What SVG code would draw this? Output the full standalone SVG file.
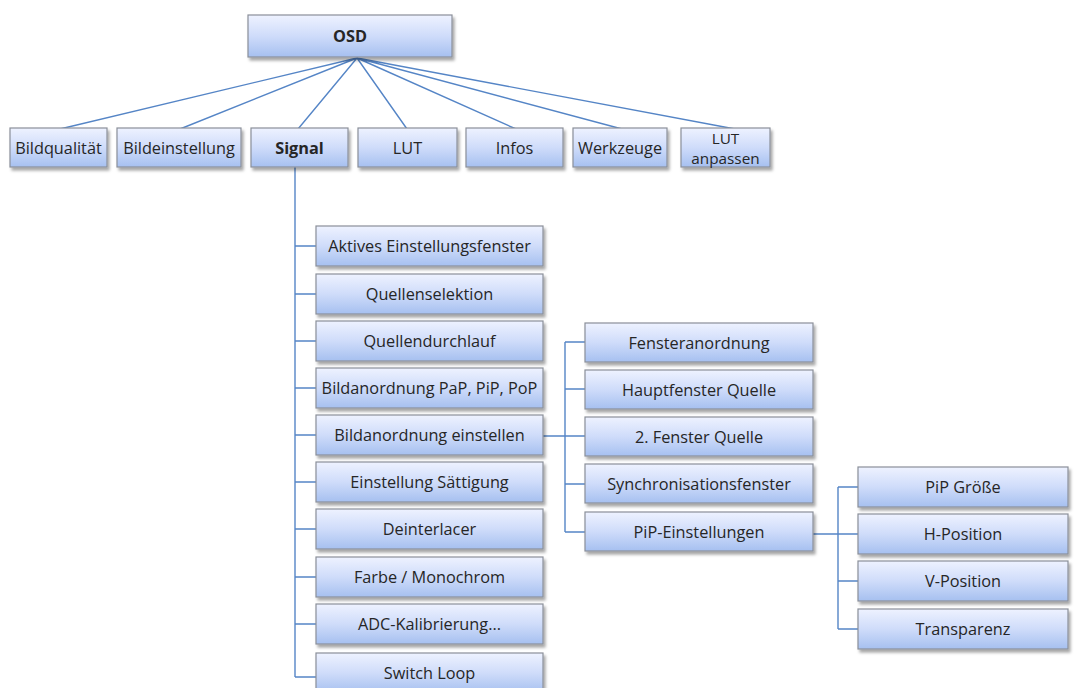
<svg xmlns="http://www.w3.org/2000/svg" width="1075" height="688" viewBox="0 0 1075 688">
  <defs>
    <linearGradient id="boxFill" x1="0" y1="0" x2="0" y2="1">
      <stop offset="0" stop-color="#eef2ff"/>
      <stop offset="0.5" stop-color="#cfdcfa"/>
      <stop offset="1" stop-color="#a6c0f0"/>
    </linearGradient>
    <filter id="shadow" x="-10%" y="-20%" width="125%" height="160%">
      <feDropShadow dx="2" dy="3" stdDeviation="1.6" flood-color="#000" flood-opacity="0.35"/>
    </filter>
  </defs>
  <style>
    .box { fill: url(#boxFill); stroke: #8a8f99; stroke-width: 1.2; filter: url(#shadow); }
    .lbl { font-family: "Open Sans", Lato, "Liberation Sans", sans-serif; font-size: 16.3px; fill: #262626; text-anchor: middle; dominant-baseline: central; }
    .small { font-size: 15.3px; }
    .bold { font-weight: bold; }
    .wire { stroke: #5585c6; stroke-width: 1.4; fill: none; }
  </style>
  <rect width="1075" height="688" fill="#ffffff"/>

  <!-- connectors -->
  <g id="connectors">
    <!-- fan from OSD -->
    <path class="wire" d="M357 58 L60 129 M357 58 L180 129 M357 58 L298 129 M357 58 L407 129 M357 58 L516 129 M357 58 L622 129 M357 58 L735 129"/>
    <!-- Signal trunk -->
    <path class="wire" d="M295 167 V677"/>
    <path class="wire" d="M295 246 H316 M295 294 H316 M295 341 H316 M295 388 H316 M295 435 H316 M295 482 H316 M295 529 H316 M295 577 H316 M295 624 H316 M295 677 H316"/>
    <!-- Bildanordnung einstellen branch -->
    <path class="wire" d="M543 436 H585 M565 342 V532 M565 342 H585 M565 389 H585 M565 484 H585 M565 532 H585"/>
    <!-- PiP-Einstellungen branch -->
    <path class="wire" d="M813 534 H858 M838 487 V629 M838 487 H858 M838 581 H858 M838 629 H858"/>
  </g>

  <g id="osd"><rect class="box" x="248" y="15" width="204" height="42"/><text class="lbl bold" x="350" y="36">OSD</text></g>

  <g id="bildqualitaet"><rect class="box" x="10" y="128" width="97" height="39"/><text class="lbl" x="58.5" y="147.5">Bildqualität</text></g>
  <g id="bildeinstellung"><rect class="box" x="117" y="128" width="124" height="39"/><text class="lbl" x="179" y="147.5">Bildeinstellung</text></g>
  <g id="signal"><rect class="box" x="251" y="128" width="97" height="39"/><text class="lbl bold" x="299.5" y="147.5">Signal</text></g>
  <g id="lut"><rect class="box" x="358" y="128" width="99" height="39"/><text class="lbl" x="407.5" y="147.5">LUT</text></g>
  <g id="infos"><rect class="box" x="466" y="128" width="97" height="39"/><text class="lbl" x="514.5" y="147.5">Infos</text></g>
  <g id="werkzeuge"><rect class="box" x="573" y="128" width="94" height="39"/><text class="lbl" x="620" y="147.5">Werkzeuge</text></g>
  <g id="lut-anpassen"><rect class="box" x="681" y="128" width="89" height="39"/><text class="lbl small" x="725.5" y="137.5">LUT</text><text class="lbl small" x="725.5" y="157.5">anpassen</text></g>

  <g id="aktives"><rect class="box" x="316" y="226" width="227" height="40"/><text class="lbl" x="429.5" y="246">Aktives Einstellungsfenster</text></g>
  <g id="quellenselektion"><rect class="box" x="316" y="274" width="227" height="40"/><text class="lbl" x="429.5" y="294">Quellenselektion</text></g>
  <g id="quellendurchlauf"><rect class="box" x="316" y="321" width="227" height="40"/><text class="lbl" x="429.5" y="341">Quellendurchlauf</text></g>
  <g id="bildanordnung"><rect class="box" x="316" y="368" width="227" height="40"/><text class="lbl" x="429.5" y="388">Bildanordnung PaP, PiP, PoP</text></g>
  <g id="bildanordnung-einstellen"><rect class="box" x="316" y="415" width="227" height="40"/><text class="lbl" x="429.5" y="435">Bildanordnung einstellen</text></g>
  <g id="saettigung"><rect class="box" x="316" y="462" width="227" height="40"/><text class="lbl" x="429.5" y="482">Einstellung Sättigung</text></g>
  <g id="deinterlacer"><rect class="box" x="316" y="509" width="227" height="40"/><text class="lbl" x="429.5" y="529">Deinterlacer</text></g>
  <g id="farbe"><rect class="box" x="316" y="557" width="227" height="40"/><text class="lbl" x="429.5" y="577">Farbe / Monochrom</text></g>
  <g id="adc"><rect class="box" x="316" y="604" width="227" height="40"/><text class="lbl" x="429.5" y="624">ADC-Kalibrierung...</text></g>
  <g id="switch-loop"><rect class="box" x="316" y="653" width="227" height="40"/><text class="lbl" x="429.5" y="673">Switch Loop</text></g>

  <g id="fensteranordnung"><rect class="box" x="585" y="323" width="228" height="39"/><text class="lbl" x="699" y="342.5">Fensteranordnung</text></g>
  <g id="hauptfenster"><rect class="box" x="585" y="370" width="228" height="39"/><text class="lbl" x="699" y="389.5">Hauptfenster Quelle</text></g>
  <g id="fenster2"><rect class="box" x="585" y="417" width="228" height="39"/><text class="lbl" x="699" y="436.5">2. Fenster Quelle</text></g>
  <g id="synchronisationsfenster"><rect class="box" x="585" y="464" width="228" height="39"/><text class="lbl" x="699" y="483.5">Synchronisationsfenster</text></g>
  <g id="pip-einstellungen"><rect class="box" x="585" y="512" width="228" height="39"/><text class="lbl" x="699" y="531.5">PiP-Einstellungen</text></g>

  <g id="pip-groesse"><rect class="box" x="858" y="467" width="210" height="40"/><text class="lbl" x="963" y="487">PiP Größe</text></g>
  <g id="h-position"><rect class="box" x="858" y="514" width="210" height="40"/><text class="lbl" x="963" y="534">H-Position</text></g>
  <g id="v-position"><rect class="box" x="858" y="561" width="210" height="40"/><text class="lbl" x="963" y="581">V-Position</text></g>
  <g id="transparenz"><rect class="box" x="858" y="609" width="210" height="40"/><text class="lbl" x="963" y="629">Transparenz</text></g>
</svg>
